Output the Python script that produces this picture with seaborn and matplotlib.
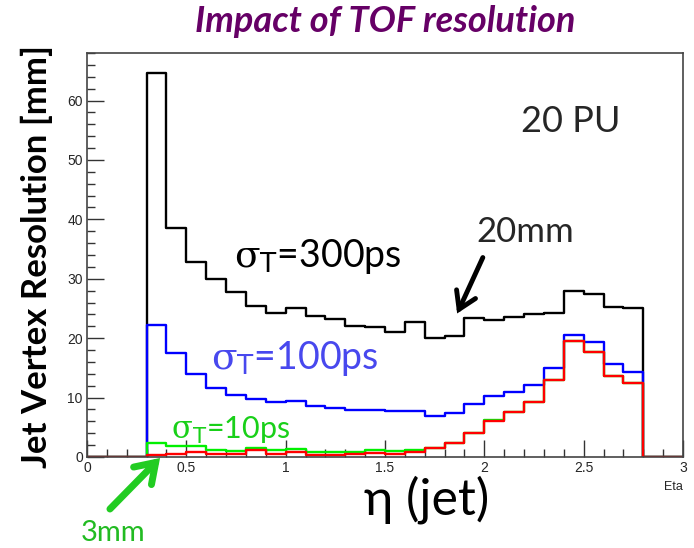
import numpy as np
import pandas as pd
import matplotlib
matplotlib.use("Agg")
import matplotlib.pyplot as plt
import seaborn as sns
from matplotlib.ticker import MultipleLocator

# ---- data ----
bin_edges = [round(0.1 * i, 1) for i in range(31)]
sigma_300ps = [0, 0, 0, 64.7, 38.5, 32.8, 30.0, 27.8, 25.4, 24.3, 25.0, 23.7, 23.3, 22.1, 21.8,
               21.1, 22.7, 20.1, 20.4, 23.4, 23.1, 23.6, 24.0, 24.3, 28.0, 27.5, 25.3, 25.0, 0, 0]
sigma_100ps = [0, 0, 0, 22.2, 17.5, 14.0, 11.6, 10.5, 9.8, 9.2, 9.4, 8.6, 8.3, 7.9, 7.9,
               7.8, 7.7, 6.9, 7.4, 8.9, 10.3, 10.9, 12.2, 15.0, 20.6, 19.3, 15.7, 14.3, 0, 0]
sigma_10ps = [0, 0, 0, 2.3, 1.9, 1.9, 1.2, 1.0, 1.45, 1.1, 1.3, 0.9, 0.9, 0.9, 1.1,
              0.95, 1.1, 1.45, 2.3, 4.0, 6.3, 7.5, 9.25, 13.0, 19.5, 17.7, 13.6, 12.4, 0, 0]
sigma_red = [0, 0, 0, 0.3, 0.45, 0.9, 0.55, 0.55, 1.1, 0.55, 0.9, 0.35, 0.35, 0.45, 0.65,
             0.55, 0.8, 1.45, 2.3, 4.0, 6.1, 7.5, 9.25, 13.0, 19.5, 17.7, 13.6, 12.4, 0, 0]

series = [("300ps", sigma_300ps, "#000000"),
          ("100ps", sigma_100ps, "#0000ff"),
          ("10ps", sigma_10ps, "#00f000"),
          ("red", sigma_red, "#ff0000")]

centers = [(bin_edges[i] + bin_edges[i + 1]) / 2 for i in range(len(bin_edges) - 1)]

sns.set_style("white")
plt.rcParams["font.family"] = ["Liberation Sans", "DejaVu Sans"]
plt.rcParams["mathtext.fontset"] = "dejavuserif"

fig = plt.figure(figsize=(6.94, 5.48), dpi=100)
ax = fig.add_axes([87 / 694, 1 - 457 / 548, (683 - 87) / 694, (457 - 53) / 548])

for name, vals, col in series:
    df = pd.DataFrame({"eta": centers, "w": vals})
    sns.histplot(data=df, x="eta", weights="w", bins=bin_edges, element="step",
                 fill=False, color=col, linewidth=1.7, ax=ax)

ax.set_xlim(0, 3)
ax.set_ylim(0, 68)
ax.set_xlabel("")
ax.set_ylabel("")
ax.xaxis.set_major_locator(MultipleLocator(0.5))
ax.xaxis.set_minor_locator(MultipleLocator(0.1))
ax.yaxis.set_major_locator(MultipleLocator(10))
ax.yaxis.set_minor_locator(MultipleLocator(2))
ax.set_xticks([0, 0.5, 1, 1.5, 2, 2.5, 3])
ax.set_xticklabels(["0", "0.5", "1", "1.5", "2", "2.5", "3"])
ax.tick_params(which="major", direction="in", length=12, width=1, color="#333333",
               labelsize=10, bottom=True, left=True, top=False, right=False, pad=3)
ax.tick_params(which="minor", direction="in", length=6, width=1, color="#333333",
               bottom=True, left=True, top=False, right=False)
for s in ax.spines.values():
    s.set_color("#444444")
    s.set_linewidth(1.2)

def fx(px):
    return px / 694

def fy(py):
    return 1 - py / 548

SANS = ["Lato", "Noto Sans", "DejaVu Sans"]

fig.text(fx(385), fy(22), "Impact of TOF resolution", ha="center", va="center",
         fontsize=26, fontweight="bold", fontstyle="italic", color="#660066", family="Lato")
fig.text(fx(37), fy(256), "Jet Vertex Resolution [mm]", ha="center", va="center",
         rotation=90, fontsize=25, fontweight="bold", color="black", family="Lato")
fig.text(fx(683), fy(487), "Eta", ha="right", va="center", fontsize=9)
fig.text(fx(427), fy(500), "η (jet)", ha="center", va="center", fontsize=36,
         family=SANS, color="black")

fig.text(fx(571), fy(121), "20 PU", ha="center", va="center", fontsize=26, family="Lato")
fig.text(fx(318), fy(256), r"$\mathrm{\sigma}_{\mathsf{T}}$=300ps", ha="center", va="center",
         fontsize=27, family="Lato", color="black")
fig.text(fx(295), fy(358), r"$\mathrm{\sigma}_{\mathsf{T}}$=100ps", ha="center", va="center",
         fontsize=27, family="Lato", color="#4848ee")
fig.text(fx(231), fy(430), r"$\mathrm{\sigma}_{\mathsf{T}}$=10ps", ha="center", va="center",
         fontsize=22, family="Lato", color="#19d019")
fig.text(fx(525), fy(232), "20mm", ha="center", va="center", fontsize=25, family="Lato")
fig.text(fx(113), fy(533), "3mm", ha="center", va="center", fontsize=21, family="Lato",
         color="#22bb22")

fig.add_artist(matplotlib.patches.FancyArrowPatch(
    (fx(484), fy(255)), (fx(456), fy(316)), transform=fig.transFigure,
    arrowstyle="->,head_length=8,head_width=5", color="black", linewidth=3.5,
    mutation_scale=1.5, capstyle="round", joinstyle="miter"))
fig.add_artist(matplotlib.patches.FancyArrowPatch(
    (fx(108), fy(511)), (fx(162), fy(456)), transform=fig.transFigure,
    arrowstyle="->,head_length=9,head_width=6", color="#22cc22", linewidth=5,
    mutation_scale=1.5, joinstyle="miter"))

fig.savefig("out.png", dpi=100)
